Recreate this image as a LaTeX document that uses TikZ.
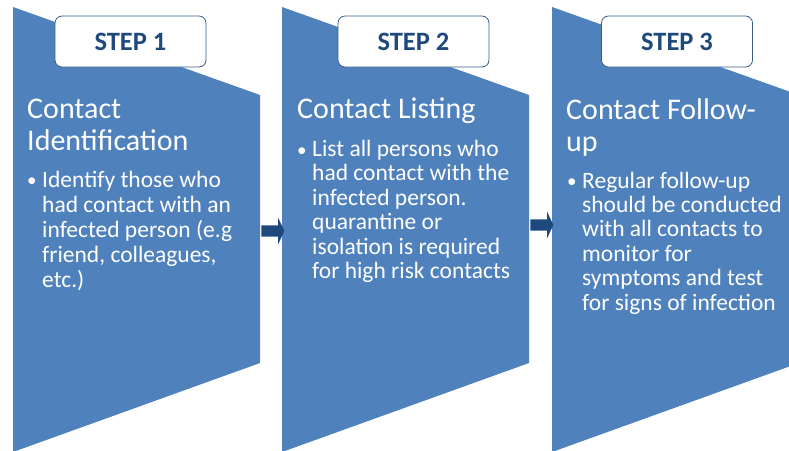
\documentclass[tikz,border=0pt]{standalone}
\usepackage{fontspec}
\setmainfont{Carlito}
\usetikzlibrary{positioning, shapes.arrows}
\definecolor{panelblue}{HTML}{4F81BD}
\definecolor{darkblue}{HTML}{1F497D}
\definecolor{boxline}{HTML}{385D8A}

\tikzset{
    panel/.style={fill=panelblue, draw=none},
    stepbox/.style={draw=boxline, fill=white, rounded corners=7pt, line width=0.8pt,
        minimum width=151pt, minimum height=51pt, text=darkblue,
        font=\fontsize{26.5}{30}\selectfont\bfseries},
    title/.style={anchor=base west, inner sep=0pt, align=left, text=white,
        font=\fontsize{30}{32}\selectfont},
    bullettext/.style={anchor=base west, inner sep=0pt, align=left, text=white,
        font=\fontsize{23.5}{24.4}\selectfont},
    dot/.style={anchor=base west, inner sep=0pt, text=white,
        font=\fontsize{19}{20}\selectfont},
    flow/.style={single arrow, fill=darkblue, draw=none, inner xsep=0pt, inner ysep=5.5pt,
        minimum height=23pt, single arrow head extend=7.5pt, single arrow tip angle=130}
}

\begin{document}
\begin{tikzpicture}[x=1pt, y=-1pt]
    \useasboundingbox (0,0) rectangle (789,450);
    \clip (0,0) rectangle (789,450);

    % draw the three panels
    \foreach \px in {13, 282, 552}
    {
        \fill[panelblue] (\px,7) -- (\px+247,95) -- (\px+247,363) -- (\px,452) -- cycle;
    }

    % step labels
    \node[stepbox] (step1) at (130.5,41.5) {STEP 1};
    \node[stepbox] (step2) at (413.5,41.5) {STEP 2};
    \node[stepbox] (step3) at (677,41.5) {STEP 3};

    % arrows between panels
    \node[flow] (arrow1) at (271.5,231) {};
    \node[flow] (arrow2) at (540.5,225) {};

    % titles (anchored at the baseline of the last line)
    \node[title] (title1) at (27,150) {Contact\\Identification};
    \node[title] (title2) at (297,118) {Contact Listing};
    \node[title] (title3) at (566,151) {Contact Follow-\\up};

    % bullet texts
    \node[dot] (dot1) at (27,186) {\textbullet};
    \node[bullettext, font=\fontsize{23.5}{25}\selectfont] (list1) at (42,287)
        {Identify those who\\had contact with an\\infected person (e.g\\friend, colleagues,\\etc.)};
    \node[dot] (dot2) at (297,156) {\textbullet};
    \node[bullettext] (list2) at (312,278.5)
        {List all persons who\\had contact with the\\infected person.\\quarantine or\\isolation is required\\for high risk contacts};
    \node[dot] (dot3) at (567,187) {\textbullet};
    \node[bullettext] (list3) at (582,310)
        {Regular follow-up\\should be conducted\\with all contacts to\\monitor for\\symptoms and test\\for signs of infection};
\end{tikzpicture}
\end{document}
